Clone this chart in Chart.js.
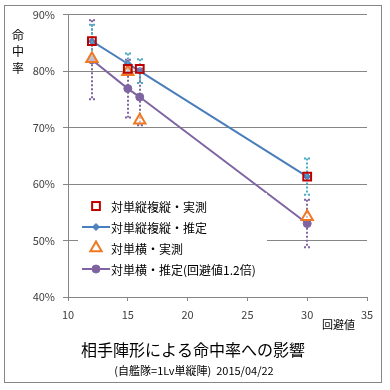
<!DOCTYPE html>
<html>
<head>
<meta charset="utf-8">
<script src="https://cdn.jsdelivr.net/npm/chart.js@4/dist/chart.umd.min.js"></script>
<style>
  html, body { margin: 0; padding: 0; background: #fff; }
</style>
</head>
<body>
<canvas id="miChart" width="390" height="390"></canvas>
<script>
// Datos (回避値 y 命中率 en %)
var kaihi = [12, 15, 16, 30];
var tateJissoku = [85.3, 80.4, 80.4, 61.3];   // 対単縦複縦・実測
var tateSuitei = [85.3, 81.3, 80.0, 61.3];    // 対単縦複縦・推定
var tateGosa = [2.9, 1.8, 2.1, 3.2];          // barras de error (celeste)
var yokoJissoku = [82.2, 79.9, 71.3, 54.2];   // 対単横・実測
var yokoSuitei = [82.0, 76.9, 75.4, 53.0];    // 対単横・推定(回避値1.2倍)
var yokoGosa = [7.0, 5.1, 5.0, 4.2];          // barras de error (morado)

var nombres = ['対単縦複縦・実測', '対単縦複縦・推定', '対単横・実測', '対単横・推定(回避値1.2倍)'];
var xTicks = [10, 15, 20, 25, 30, 35];
var yTicks = [40, 50, 60, 70, 80, 90];

var FUENTE = '"Noto Sans CJK JP", "Noto Sans", sans-serif';
var GRIS = '#868686';

// Estilos de cada serie
var estilos = {
  tateJ: { pointStyle: 'rect', radius: 5.5, borderWidth: 2, color: '#C00000', fill: 'rgba(0,0,0,0)' },
  tateS: { pointStyle: 'rectRot', radius: 3.5, borderWidth: 1, color: '#4A7EBB', fill: '#4F81BD' },
  yokoJ: { pointStyle: 'triangle', radius: 6.5, borderWidth: 2, color: '#F07820', fill: 'rgba(255,255,255,0.55)' },
  yokoS: { pointStyle: 'circle', radius: 4, borderWidth: 1, color: '#8064A2', fill: '#8064A2' }
};

function puntos(ys) {
  return kaihi.map(function (x, i) { return { x: x, y: ys[i] }; });
}

// Barras de error punteadas
function barrasError(chart, ys, gosa, color) {
  var ctx = chart.ctx;
  var sx = chart.scales.x, sy = chart.scales.y;
  ctx.save();
  ctx.strokeStyle = color;
  ctx.lineWidth = 2;
  ctx.setLineDash([2, 2]);
  for (var i = 0; i < kaihi.length; i++) {
    var px = Math.round(sx.getPixelForValue(kaihi[i]));
    var top = sy.getPixelForValue(ys[i] + gosa[i]);
    var bot = sy.getPixelForValue(ys[i] - gosa[i]);
    ctx.beginPath();
    ctx.moveTo(px, top);
    ctx.lineTo(px, bot);
    ctx.moveTo(px - 3, top);
    ctx.lineTo(px + 3, top);
    ctx.moveTo(px - 3, bot);
    ctx.lineTo(px + 3, bot);
    ctx.stroke();
  }
  ctx.restore();
}

function marcador(ctx, e, x, y) {
  ctx.fillStyle = e.fill;
  ctx.strokeStyle = e.color;
  ctx.lineWidth = e.borderWidth;
  Chart.helpers.drawPoint(ctx, { pointStyle: e.pointStyle, radius: e.radius, rotation: 0, borderWidth: e.borderWidth }, x, y);
}

// Leyenda dentro del área del gráfico
function dibujarLeyenda(ctx) {
  ctx.save();
  ctx.fillStyle = '#fff';
  ctx.fillRect(78, 193, 189, 90);
  var lista = [estilos.tateJ, estilos.tateS, estilos.yokoJ, estilos.yokoS];
  var conLinea = [false, true, false, true];
  ctx.font = '12px ' + FUENTE;
  ctx.textBaseline = 'middle';
  for (var i = 0; i < 4; i++) {
    var y = 206 + i * 21;
    if (conLinea[i]) {
      ctx.strokeStyle = lista[i].color;
      ctx.lineWidth = 2;
      ctx.beginPath();
      ctx.moveTo(82, y);
      ctx.lineTo(110, y);
      ctx.stroke();
    }
    marcador(ctx, lista[i], 96, y);
    ctx.fillStyle = '#000';
    ctx.textAlign = 'left';
    ctx.fillText(nombres[i], 111, y + 1);
  }
  ctx.restore();
}

var extras = {
  id: 'extras',
  afterDatasetDraw: function (chart, args) {
    // Las líneas (índices 3 y 2) ya están dibujadas; ahora las barras de error
    if (args.index === 2) {
      barrasError(chart, yokoSuitei, yokoGosa, '#8064A2');
      barrasError(chart, tateSuitei, tateGosa, '#4BACC6');
    }
  },
  afterDraw: function (chart) {
    var ctx = chart.ctx;
    dibujarLeyenda(ctx);
    ctx.save();
    // Marco exterior
    ctx.strokeStyle = GRIS;
    ctx.lineWidth = 1;
    ctx.strokeRect(4.5, 5.5, 377, 377);
    ctx.fillStyle = '#000';
    // Título del eje Y en vertical
    ctx.font = '12px ' + FUENTE;
    ctx.textAlign = 'center';
    ctx.textBaseline = 'middle';
    var tituloY = '命中率';
    for (var i = 0; i < tituloY.length; i++) {
      ctx.fillText(tituloY[i], 18, 35 + i * 16.5);
    }
    // Título del eje X
    ctx.font = '11px ' + FUENTE;
    ctx.textAlign = 'left';
    ctx.fillText('回避値', 322, 325);
    // Título y subtítulo
    ctx.textAlign = 'center';
    ctx.font = '16px ' + FUENTE;
    ctx.fillText('相手陣形による命中率への影響', 193, 350);
    ctx.font = '11px ' + FUENTE;
    ctx.fillText('(自艦隊=1Lv単縦陣)  2015/04/22', 194, 371);
    ctx.restore();
  }
};

var ctx = document.getElementById('miChart').getContext('2d');

function dataset(nombre, ys, e, linea) {
  return {
    label: nombre,
    data: puntos(ys),
    showLine: linea,
    borderColor: e.color,
    borderWidth: 2,
    backgroundColor: e.fill,
    pointStyle: e.pointStyle,
    pointRadius: e.radius,
    pointBorderWidth: e.borderWidth,
    pointBorderColor: e.color,
    pointBackgroundColor: e.fill
  };
}

var myChart = new Chart(ctx, {
  type: 'scatter',
  data: {
    datasets: [
      dataset(nombres[0], tateJissoku, estilos.tateJ, false),
      dataset(nombres[2], yokoJissoku, estilos.yokoJ, false),
      dataset(nombres[1], tateSuitei, estilos.tateS, true),
      dataset(nombres[3], yokoSuitei, estilos.yokoS, true)
    ]
  },
  options: {
    responsive: false,
    animation: false,
    devicePixelRatio: 1,
    layout: { padding: { top: 14, right: 23, left: 0, bottom: 0 } },
    plugins: {
      legend: { display: false },
      tooltip: { enabled: false },
      title: { display: false }
    },
    scales: {
      x: {
        type: 'linear',
        min: 10,
        max: 35,
        afterFit: function (s) { s.height = 93; },
        afterBuildTicks: function (s) { s.ticks = xTicks.map(function (v) { return { value: v }; }); },
        grid: { drawOnChartArea: false, drawTicks: true, tickLength: 4, color: GRIS },
        border: { color: GRIS },
        ticks: { padding: 7, color: '#404040', font: { family: FUENTE, size: 11 }, maxRotation: 0 }
      },
      y: {
        min: 40,
        max: 90,
        afterFit: function (s) { s.width = 68; },
        afterBuildTicks: function (s) { s.ticks = yTicks.map(function (v) { return { value: v }; }); },
        grid: { color: GRIS, tickLength: 5 },
        border: { color: GRIS },
        ticks: {
          padding: 8,
          color: '#404040',
          font: { family: FUENTE, size: 11 },
          callback: function (v) { return v + '%'; }
        }
      }
    }
  },
  plugins: [extras]
});
</script>
</body>
</html>
